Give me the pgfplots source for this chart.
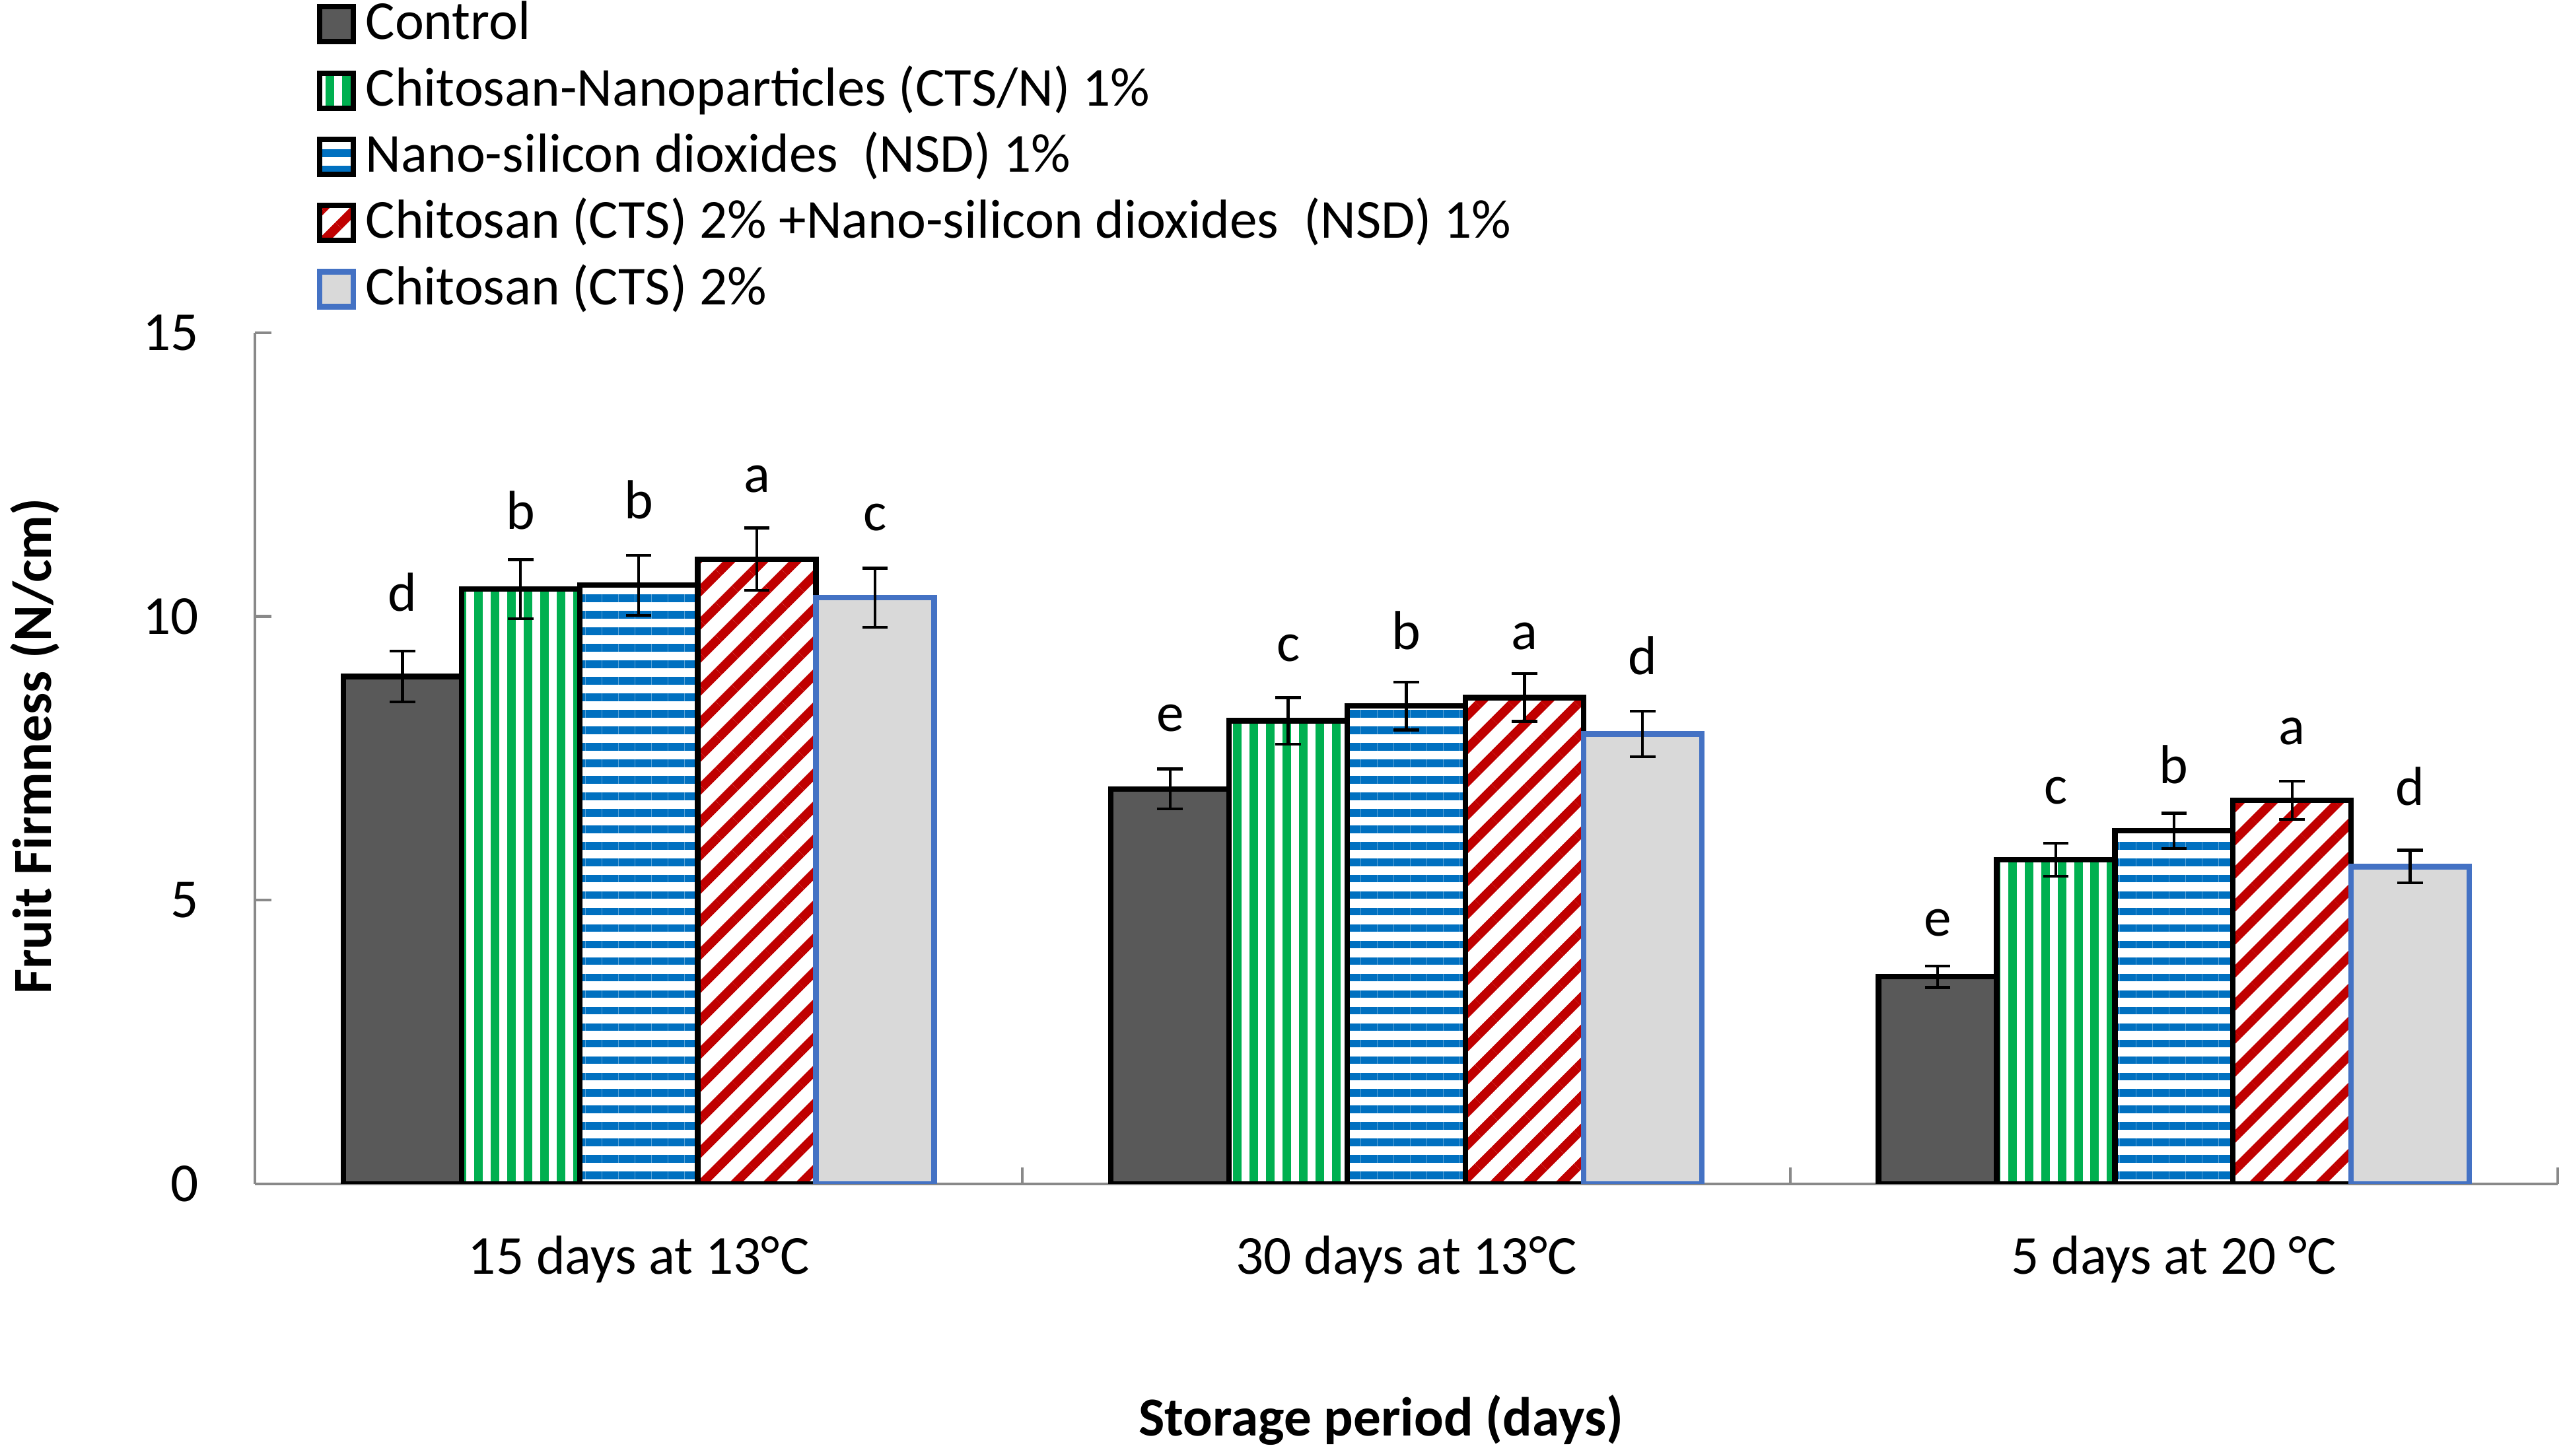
\documentclass[border=0pt]{standalone}
\usepackage{fontspec}
\setmainfont{Carlito}
\usepackage{pgfplots}
\usepackage{pgfplotstable}
\pgfplotsset{compat=1.18}
\usetikzlibrary{patterns.meta}

\definecolor{ctrlgray}{HTML}{595959}
\definecolor{stripegreen}{HTML}{00B050}
\definecolor{stripeblue}{HTML}{0070C0}
\definecolor{stripered}{HTML}{C00000}
\definecolor{ctsgray}{HTML}{D9D9D9}
\definecolor{ctsblue}{HTML}{4472C4}
\definecolor{axisgray}{HTML}{898989}

% x = storage group, y = firmness, err = error, ly = baseline of letter
\pgfplotstableread{
x y err ly lab
0 8.94 0.45 10.07 d
1 6.96 0.35 7.95 e
2 3.65 0.19 4.35 e
}\control
\pgfplotstableread{
x y err ly lab
0 10.48 0.52 11.51 b
1 8.16 0.41 9.19 c
2 5.71 0.29 6.67 c
}\ctsn
\pgfplotstableread{
x y err ly lab
0 10.55 0.53 11.70 b
1 8.42 0.42 9.40 b
2 6.22 0.31 7.03 b
}\nsd
\pgfplotstableread{
x y err ly lab
0 11.01 0.55 12.16 a
1 8.57 0.42 9.39 a
2 6.76 0.34 7.72 a
}\combo
\pgfplotstableread{
x y err ly lab
0 10.33 0.52 11.49 c
1 7.93 0.40 8.95 d
2 5.59 0.29 6.65 d
}\cts

\pgfplotsset{
  mybar/.style={line width=1.2pt,
    error bars/y dir=both, error bars/y explicit,
    error bars/error bar style={line width=0.63pt, black},
    error bars/error mark options={rotate=90, line width=0.63pt, mark size=2.8pt, black},
    legend image code/.code={\draw[##1, line width=1.2pt] (0pt,-0.5pt) rectangle (7.4pt,7.2pt);}},
  letters/.style={draw=none, fill=none, forget plot,
    nodes near coords, point meta=explicit symbolic,
    nodes near coords style={inner sep=0pt, text=black}},
}

\begin{document}
\fontsize{12.1}{14.5}\selectfont
\begin{tikzpicture}
\path[use as bounding box] (-56.1pt,-59.9pt) rectangle (508.4pt,260.55pt);
\begin{axis}[
    at={(0,0)}, anchor=south west,
    scale only axis, width=506.8pt, height=187.3pt,
    ybar, bar width=26pt,
    xmin=-0.5, xmax=2.5, ymin=0, ymax=15,
    axis x line*=bottom, axis y line*=left,
    axis line style={draw=axisgray, line width=0.6pt},
    tick style={draw=axisgray, line width=0.6pt},
    tick align=inside, major tick length=3.6pt,
    xtick={-0.5,0.5,1.5,2.5},
    x tick label as interval,
    xticklabels={15 days at 13°C, 30 days at 13°C, 5 days at 20 °C},
    ytick={0,5,10,15},
    /pgf/number format/assume math mode=true,
    yticklabel style={anchor=east, inner sep=0pt, xshift=-12.2pt},
    xticklabel style={anchor=base, inner sep=0pt, yshift=-19.9pt},
    xlabel={\textbf{Storage period (days)}},
    xlabel style={at={(axis description cs:0.489,-0.2963)}, anchor=base, inner sep=0pt},
    ylabel={\textbf{Fruit Firmness (N/cm)}},
    ylabel style={at={(axis description cs:-0.0886,0.514)}, anchor=base, inner sep=0pt},
    legend style={at={(axis description cs:0.027,1.398)}, anchor=north west,
      draw=none, fill=none, inner sep=0pt, outer sep=0pt, row sep=0pt, column sep=0pt,
      cells={anchor=base west},
      nodes={inner xsep=2.1pt, inner ysep=0pt, text height=10pt, text depth=4.58pt}},
]
\addplot[mybar, bar shift=-52pt, draw=black, fill=ctrlgray]
  table[x=x, y=y, y error=err] {\control};
\addplot[mybar, bar shift=-26pt, draw=black,
  pattern={Lines[angle=90, distance=3.63pt, line width=1.89pt]}, pattern color=stripegreen]
  table[x=x, y=y, y error=err] {\ctsn};
\addplot[mybar, bar shift=0pt, draw=black,
  pattern={Lines[angle=0, distance=3.63pt, line width=1.7pt]}, pattern color=stripeblue]
  table[x=x, y=y, y error=err] {\nsd};
\addplot[mybar, bar shift=26pt, draw=black,
  pattern={Lines[angle=45, distance=5.14pt, line width=2.0pt]}, pattern color=stripered]
  table[x=x, y=y, y error=err] {\combo};
\addplot[mybar, bar shift=52pt, draw=ctsblue, fill=ctsgray]
  table[x=x, y=y, y error=err] {\cts};

% significance letters
\addplot[letters, bar shift=-52pt] table[x=x, y=ly, meta=lab] {\control};
\addplot[letters, bar shift=-26pt] table[x=x, y=ly, meta=lab] {\ctsn};
\addplot[letters, bar shift=0pt] table[x=x, y=ly, meta=lab] {\nsd};
\addplot[letters, bar shift=26pt] table[x=x, y=ly, meta=lab] {\combo};
\addplot[letters, bar shift=52pt] table[x=x, y=ly, meta=lab] {\cts};

\legend{Control,
  Chitosan-Nanoparticles (CTS/N) 1\%,
  Nano-silicon dioxides\ \ (NSD) 1\%,
  Chitosan (CTS) 2\% +Nano-silicon dioxides\ \ (NSD) 1\%,
  Chitosan (CTS) 2\%}
\end{axis}
\end{tikzpicture}
\end{document}
